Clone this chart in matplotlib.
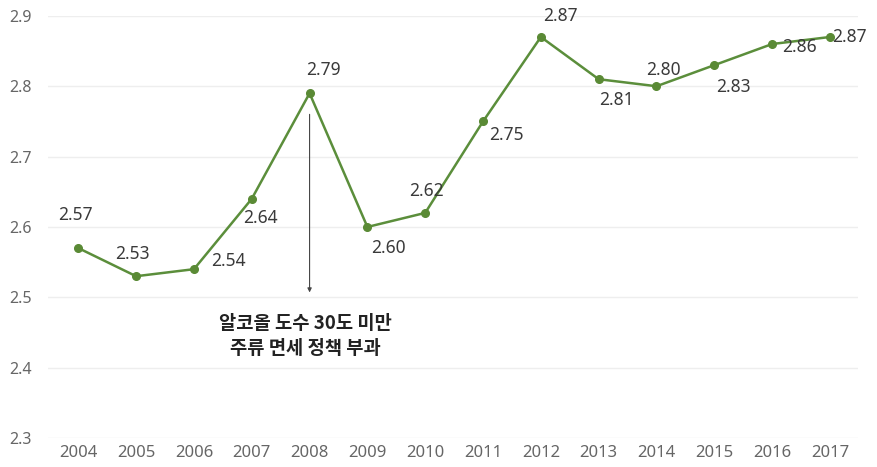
import matplotlib.pyplot as plt
import numpy as np

plt.rcParams['font.family'] = ['Noto Sans CJK KR', 'DejaVu Sans']

# data
years = [2004, 2005, 2006, 2007, 2008, 2009, 2010, 2011, 2012, 2013, 2014, 2015, 2016, 2017]
values = [2.57, 2.53, 2.54, 2.64, 2.79, 2.60, 2.62, 2.75, 2.87, 2.81, 2.80, 2.83, 2.86, 2.87]
y_ticks = [2.3, 2.4, 2.5, 2.6, 2.7, 2.8, 2.9]
note = "알코올 도수 30도 미만\n주류 면세 정책 부과"

# label offsets in points (x, y)
offsets = [(-2, 24), (-3, 16), (25, 6), (6, -14), (10, 17), (15, -15), (1, 16),
           (17, -10), (14, 15), (13, -15), (5, 12), (14, -16), (20, -2), (14, 0)]

fig = plt.figure(figsize=(8.77, 4.67), dpi=100)
ax = fig.add_axes([0.055, 0.062, 0.923, 0.904])

line_color = "#5b8e3b"
ax.plot(years, values, color=line_color, lw=1.8, marker="o", ms=5.5,
        markerfacecolor="#5a8a35", markeredgecolor="#5a8a35", zorder=3)

for yr, v, off in zip(years, values, offsets):
    ax.annotate("%.2f" % v, (yr, v), xytext=off, textcoords="offset points",
                ha="center", va="center", fontsize=12.5, color="#3a3a3a",
                family=['Noto Sans', 'DejaVu Sans'])

ax.annotate("", xy=(2008, 2.503), xytext=(2008, 2.764),
            arrowprops=dict(arrowstyle="-|>", color="#444444", lw=0.8,
                            mutation_scale=6))
ax.text(2007.92, 2.445, note, ha="center", va="center", fontsize=13.5,
        color="#222222", fontweight="bold", linespacing=1.35)

ax.set_xlim(2003.48, 2017.48)
ax.set_ylim(2.3, 2.9)
ax.set_xticks(years)
ax.set_yticks(y_ticks)
ax.set_yticklabels(["%.1f" % t for t in y_ticks])
ax.tick_params(length=0, labelcolor="#666666")
ax.tick_params(axis="x", labelsize=12, pad=5)
ax.tick_params(axis="y", labelsize=11.5, pad=12)
for lab in ax.get_xticklabels() + ax.get_yticklabels():
    lab.set_family(['Noto Sans', 'DejaVu Sans'])

ax.grid(axis="y", color="#eeeeee", lw=1)
ax.set_axisbelow(True)
for s in ax.spines.values():
    s.set_visible(False)

fig.savefig("out.png", dpi=100, facecolor="white")
